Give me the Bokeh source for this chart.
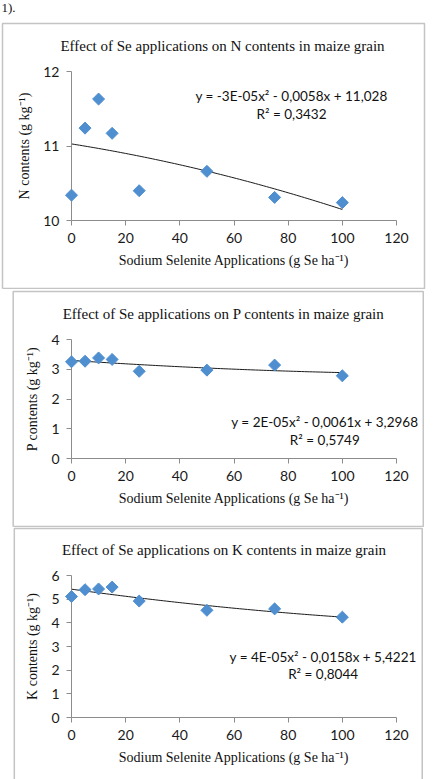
import numpy as np
from bokeh.plotting import figure
from bokeh.layouts import column
from bokeh.models import Range1d, FixedTicker
from bokeh.core.properties import value
from bokeh.embed import file_html
from bokeh.resources import INLINE

# Selenium application rates (g Se ha-1)
se_rates = [0, 5, 10, 15, 25, 50, 75, 100]

# Nutrient contents in maize grain (g kg-1)
n_contents = [10.34, 11.24, 11.63, 11.17, 10.40, 10.66, 10.31, 10.24]
p_contents = [3.25, 3.27, 3.38, 3.33, 2.93, 2.97, 3.14, 2.78]
k_contents = [5.11, 5.40, 5.43, 5.51, 4.92, 4.53, 4.59, 4.24]

# Second order polynomial trend lines: a*x^2 + b*x + c
n_fit = [-3e-05, -0.0058, 11.028]
p_fit = [2e-05, -0.0061, 3.2968]
k_fit = [4e-05, -0.0158, 5.4221]

n_eq = ["y = -3E-05x² - 0,0058x + 11,028", "R² = 0,3432"]
p_eq = ["y = 2E-05x² - 0,0061x + 3,2968", "R² = 0,5749"]
k_eq = ["y = 4E-05x² - 0,0158x + 5,4221", "R² = 0,8044"]

x_ticks = [0, 20, 40, 60, 80, 100, 120]
n_ticks = [10, 11, 12]
p_ticks = [0, 1, 2, 3, 4]
k_ticks = [0, 1, 2, 3, 4, 5, 6]

X_LABEL = "Sodium Selenite Applications (g Se ha\u207b\u00b9)"

SERIF = "Liberation Serif"
SANS = "Lato"
MARKER = "#4f8fd0"
AXIS = "#8c8c8c"
FRAME_BORDER = "#c4c4c4"
X_LO, X_HI = 0, 120


def panel(title, ylabel, values, fit, eq, y_lo, y_hi, y_ticks, height,
          frame, border, eq_pos):
    left, right, top, bottom = frame
    p = figure(width=436, height=height, output_backend="svg",
               toolbar_location=None,
               x_range=Range1d(X_LO, X_HI), y_range=Range1d(y_lo, y_hi),
               min_border_left=left, min_border_right=436 - right,
               min_border_top=top, min_border_bottom=height - bottom)
    p.outline_line_color = None
    p.grid.visible = False
    p.background_fill_color = "white"
    p.border_fill_color = "white"

    # canvas pixel -> data coordinate helpers for decorations outside the frame
    def dx(px):
        return X_LO + (px - left) / (right - left) * (X_HI - X_LO)

    def dy(py):
        return y_hi - (py - top) / (bottom - top) * (y_hi - y_lo)

    p.xaxis.ticker = FixedTicker(ticks=x_ticks)
    p.yaxis.ticker = FixedTicker(ticks=y_ticks)
    for ax in (p.xaxis, p.yaxis):
        ax.axis_line_color = AXIS
        ax.major_tick_line_color = AXIS
        ax.major_tick_out = 5
        ax.major_tick_in = 0
        ax.minor_tick_line_color = None
        ax.major_label_text_font = SANS
        ax.major_label_text_font_size = "14px"
        ax.major_label_text_color = "#1a1a1a"
        ax.axis_label_text_font = SERIF
        ax.axis_label_text_font_size = "14px"
        ax.axis_label_text_font_style = "normal"
        ax.axis_label_text_color = "#111111"
    p.xaxis.major_label_standoff = 7
    p.xaxis.axis_label_standoff = 7
    p.yaxis.major_label_standoff = 7
    p.yaxis.axis_label_standoff = 8
    p.xaxis.axis_label = X_LABEL
    p.yaxis.axis_label = ylabel

    # panel border
    bl, br, bt, bb = border
    p.line([dx(bl), dx(bl), dx(br), dx(br), dx(bl)],
           [dy(bb), dy(bt), dy(bt), dy(bb), dy(bb)],
           line_color=FRAME_BORDER, line_width=1.5, level="overlay")

    # trend line over the applied range
    xs = np.linspace(0, 100, 101)
    ys = fit[0] * xs ** 2 + fit[1] * xs + fit[2]
    p.line(xs, ys, line_color="#1a1a1a", line_width=1)

    p.scatter(se_rates, values, marker="square", angle=np.pi / 4, size=8.5,
              fill_color=MARKER, line_color=MARKER, level="overlay")

    ex, ey1, ey2 = eq_pos
    p.text(x=[dx(ex), dx(ex)], y=[dy(ey1), dy(ey2)], text=eq,
           text_font=value(SANS), text_font_size="13.5px",
           text_align="center", text_baseline="middle",
           text_color="#111111", level="overlay")

    p.text(x=[dx(222)], y=[dy(top - 26)], text=[title],
           text_font=value(SERIF), text_font_size="15px",
           text_align="center", text_baseline="middle",
           text_color="#111111", level="overlay")
    return p, dx, dy


p1, dx1, dy1 = panel("Effect of Se applications on N contents in maize grain",
                     "N contents (g kg\u207b\u00b9)", n_contents, n_fit, n_eq,
                     10, 12, n_ticks, 289, (71, 396, 71, 220),
                     (2, 424, 23, 288), (291, 95, 113))
p1.text(x=[dx1(1)], y=[dy1(7)], text=["1)."], text_font=value(SERIF),
        text_font_size="13px", text_baseline="middle",
        text_color="#111111", level="overlay")

p2, _, _ = panel("Effect of Se applications on P contents in maize grain",
                 "P contents (g kg\u207b\u00b9)", p_contents, p_fit, p_eq,
                 0, 4, p_ticks, 238, (63, 403, 50, 169),
                 (2, 431, 2, 237), (328, 132, 150))

p3, _, _ = panel("Effect of Se applications on K contents in maize grain",
                 "K contents (g kg\u207b\u00b9)", k_contents, k_fit, k_eq,
                 0, 6, k_ticks, 252, (62, 403, 48, 190),
                 (2, 430, 1, 262), (326, 129, 146))

layout = column(p1, p2, p3, spacing=0)
open("out.html", "w").write(file_html(layout, INLINE))
